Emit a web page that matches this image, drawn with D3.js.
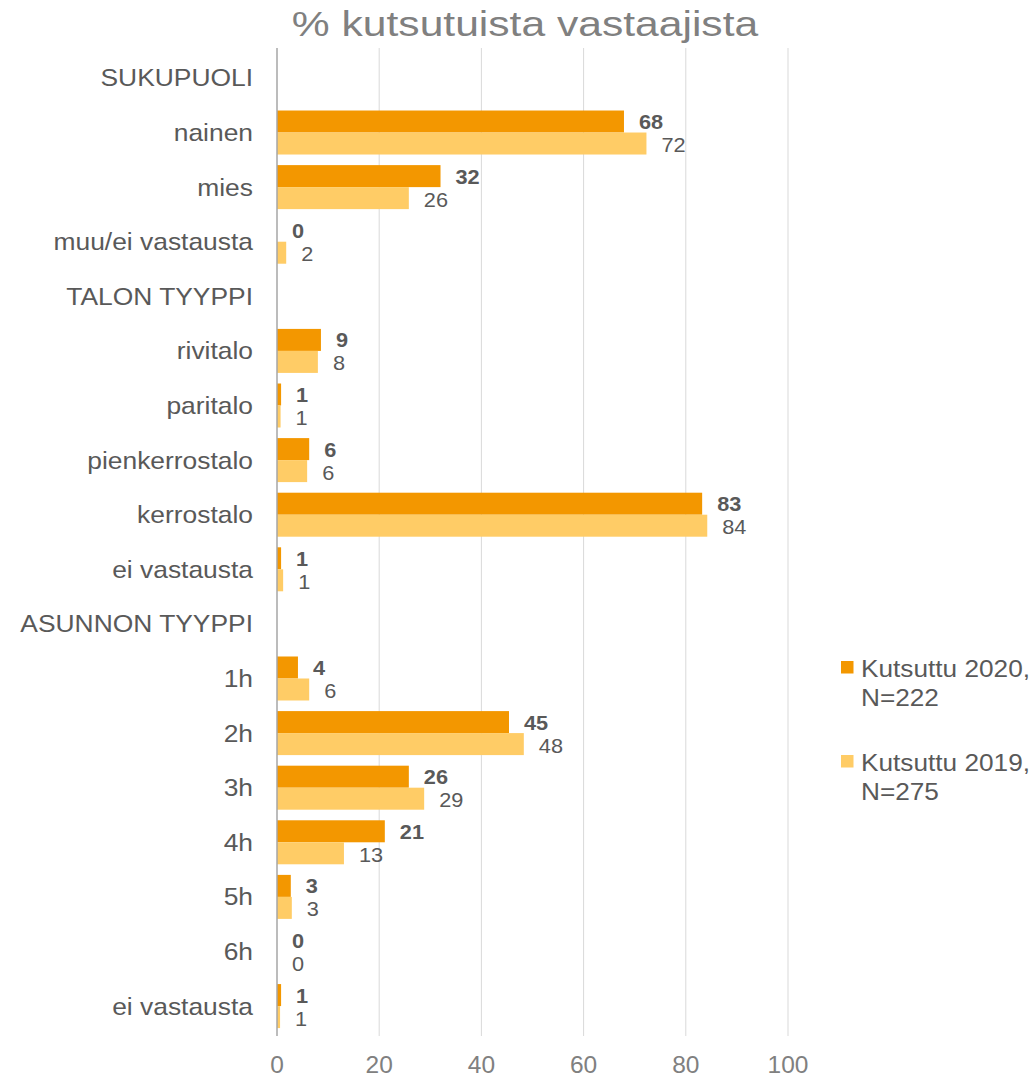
<!DOCTYPE html>
<html>
<head>
<meta charset="utf-8">
<script src="https://cdn.jsdelivr.net/npm/d3@7"></script>
<style>
  html, body { margin: 0; padding: 0; background: #ffffff; }
  svg { display: block; font-family: "Liberation Sans", Arial, sans-serif; }
</style>
</head>
<body>
<svg id="chart" width="1036" height="1080"></svg>
<script>
// ---- data ----
const categories = ["SUKUPUOLI", "nainen", "mies", "muu/ei vastausta",
  "TALON TYYPPI", "rivitalo", "paritalo", "pienkerrostalo", "kerrostalo", "ei vastausta",
  "ASUNNON TYYPPI", "1h", "2h", "3h", "4h", "5h", "6h", "ei vastausta"];
const values2020 = [null, 67.9, 32.0, 0, null, 8.6, 0.8, 6.3, 83.2, 0.8, null, 4.1, 45.4, 25.8, 21.1, 2.7, 0, 0.8];
const values2019 = [null, 72.3, 25.8, 1.8, null, 8.0, 0.7, 5.9, 84.2, 1.2, null, 6.3, 48.3, 28.8, 13.1, 2.9, 0, 0.6];
const seriesNames = ["Kutsuttu 2020,|N=222", "Kutsuttu 2019,|N=275"];
const xTicks = [0, 20, 40, 60, 80, 100];
const titleText = "% kutsutuista vastaajista";

// ---- layout ----
const svg = d3.select("#chart");
const colors = ["#F39700", "#FFCC66"];
const textDark = "#595959";

const x = d3.scaleLinear().domain([0, 100]).range([277, 788]);
const y = d3.scaleBand().domain(d3.range(categories.length))
  .range([48, 1036]).paddingInner(0.194).paddingOuter(0.145);
const ySub = d3.scaleBand().domain([0, 1]).range([0, y.bandwidth()]);

function stext(parent, px, py, sx, txt, anchor, size, color, weight) {
  const g = parent.append("g").attr("transform", `translate(${px},${py}) scale(${sx},1)`);
  g.append("text").attr("x", 0).attr("y", 0)
    .attr("text-anchor", anchor).attr("font-size", size)
    .attr("fill", color).attr("font-weight", weight || "normal").text(txt);
  return g;
}

// gridlines
const [yTop, yBot] = y.range();
svg.append("g").selectAll("line").data(xTicks.slice(1)).join("line")
  .attr("x1", d => x(d)).attr("x2", d => x(d))
  .attr("y1", yTop).attr("y2", yBot)
  .attr("stroke", "#d9d9d9").attr("stroke-width", 1);

// bars
const series = [values2020, values2019];
series.forEach((vals, si) => {
  svg.append("g").selectAll("rect")
    .data(vals.map((v, i) => ({ v, i })).filter(d => d.v !== null))
    .join("rect")
    .attr("x", x(0))
    .attr("y", d => y(d.i) + ySub(si))
    .attr("width", d => x(d.v) - x(0))
    .attr("height", ySub.bandwidth())
    .attr("fill", colors[si]);
});

// axis line at 0
svg.append("line").attr("x1", x(0)).attr("x2", x(0))
  .attr("y1", yTop).attr("y2", yBot)
  .attr("stroke", "#a6a6a6").attr("stroke-width", 1.5);

// data labels
const fmt = d3.format(".0f");
series.forEach((vals, si) => {
  vals.forEach((v, i) => {
    if (v === null) return;
    const cy = y(i) + ySub(si) + ySub.bandwidth() / 2;
    const dy = si === 0 ? 7.5 : 8.5;
    stext(svg, x(v) + 15, cy + dy, 1.06, fmt(v), "start", 20.5, textDark, si === 0 ? "bold" : "normal");
  });
});

// category labels
categories.forEach((c, i) => {
  stext(svg, 253, y(i) + y.bandwidth() / 2 + 8.5, 1.1, c, "end", 24, textDark);
});

// x tick labels
xTicks.forEach(t => {
  stext(svg, x(t), 1073, 1.0, String(t), "middle", 24.5, "#808080");
});

// title
stext(svg, 525, 36, 1.2, titleText, "middle", 35.5, "#808080");

// legend
seriesNames.forEach((name, si) => {
  const top = 661 + si * 94;
  svg.append("rect").attr("x", 841).attr("y", top)
    .attr("width", 12.5).attr("height", 12.5).attr("fill", colors[si]);
  const lines = name.split("|");
  lines.forEach((ln, li) => {
    stext(svg, 861, top + 16 + li * 29, 1.07, ln, "start", 24.5, textDark);
  });
});
</script>
</body>
</html>
